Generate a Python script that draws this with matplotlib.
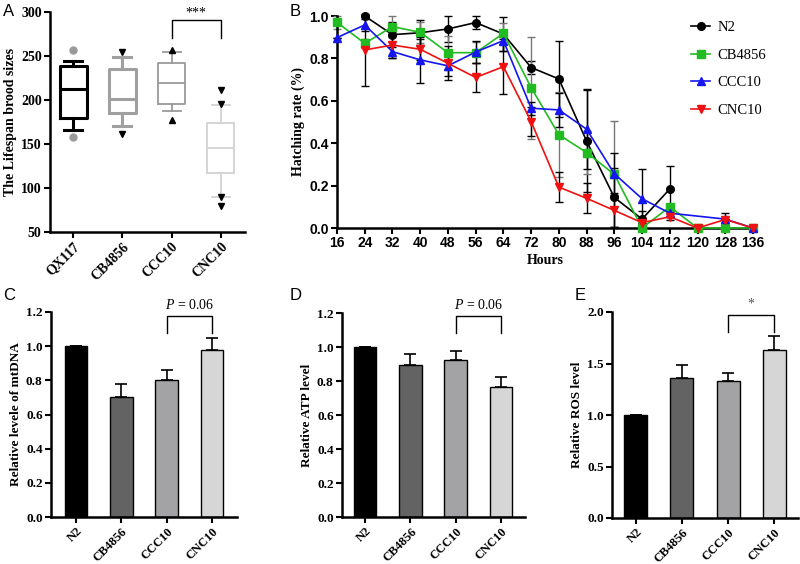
import numpy as np
import matplotlib
matplotlib.use("Agg")
import matplotlib.pyplot as plt

plt.rcParams['font.family'] = ['Liberation Serif', 'DejaVu Serif']
plt.rcParams['mathtext.fontset'] = 'custom'
plt.rcParams['mathtext.it'] = 'Liberation Serif:italic'
plt.rcParams['mathtext.rm'] = 'Liberation Serif'

# Panel A : box plots (nombre de descendants)
souches_a = ['QX117', 'CB4856', 'CCC10', 'CNC10']
a_mediane = [213, 201, 219, 146]
a_q1 = [180, 185, 195, 117]
a_q3 = [239, 235, 242, 174]
a_bas = [166, 171, 187, 90]
a_haut = [244, 249, 254, 194]
a_extremes = [[257, 158], [254, 161], [257, 177], [211, 196, 90, 80]]

# Panel B : taux d'éclosion
heures = [16, 24, 32, 40, 48, 56, 64, 72, 80, 88, 96, 104, 112, 120, 128, 136]
nan = np.nan
eclo_n2 = [nan, 1.0, 0.912, 0.921, 0.939, 0.969, 0.915, 0.757, 0.703, 0.41, 0.144, 0.042, 0.184, nan, nan, nan]
eclo_cb = [0.97, 0.871, 0.95, 0.923, 0.827, 0.827, 0.918, 0.662, 0.44, 0.356, 0.253, 0.0, 0.10, 0.0, 0.0, 0.0]
eclo_ccc = [0.898, 0.958, 0.832, 0.793, 0.765, 0.83, 0.884, 0.565, 0.557, 0.466, 0.256, 0.138, 0.07, nan, 0.042, 0.0]
eclo_cnc = [nan, 0.84, 0.863, 0.843, 0.777, 0.71, 0.761, 0.502, 0.193, 0.14, 0.083, 0.025, 0.053, 0.0, 0.04, 0.0]
err_n2 = [nan, 0.0, 0.06, 0.06, 0.06, 0.03, 0.08, 0.03, 0.18, 0.24, 0.14, 0.04, 0.11, nan, nan, nan]
err_cb = [0.03, 0.02, 0.05, 0.05, 0.08, 0.05, 0.05, 0.24, 0.2, 0.1, 0.25, 0.0, 0.0, 0.0, 0.0, 0.0]
err_ccc = [0.0, 0.03, 0.03, 0.11, 0.05, 0.05, 0.05, 0.03, 0.08, 0.19, 0.1, 0.14, 0.03, nan, 0.0, 0.0]
err_cnc = [nan, 0.17, 0.06, 0.05, 0.08, 0.07, 0.13, 0.07, 0.07, 0.07, 0.08, 0.0, 0.0, 0.0, 0.03, 0.0]

# Panels C, D, E : barres
souches = ['N2', 'CB4856', 'CCC10', 'CNC10']
mtdna = [1.0, 0.70, 0.80, 0.98]
mtdna_err = [0.0, 0.08, 0.06, 0.07]
atp = [1.0, 0.896, 0.922, 0.765]
atp_err = [0.0, 0.06, 0.053, 0.06]
ros = [1.0, 1.356, 1.333, 1.631]
ros_err = [0.0, 0.126, 0.072, 0.133]

couleurs_barres = ['#000000', '#636363', '#a3a3a6', '#d6d6d6']

W, H = 800, 564
fig = plt.figure(figsize=(W / 100, H / 100), dpi=100)


def axes_px(g, h, d, b):
    return fig.add_axes([g / W, 1 - b / H, (d - g) / W, (b - h) / H])


def style_axes(ax, serif=True):
    for s in ['top', 'right']:
        ax.spines[s].set_visible(False)
    for s in ['left', 'bottom']:
        ax.spines[s].set_linewidth(1.8)
    ax.tick_params(direction='out', length=4, width=1.5, pad=2)
    police = 'Liberation Serif' if serif else 'Liberation Sans'
    for lab in ax.get_xticklabels() + ax.get_yticklabels():
        lab.set_fontfamily(police)
        lab.set_fontweight('bold')


# ---------------- A ----------------
ax = axes_px(50, 12, 245, 232)
couleurs_a = ['#000000', '#a0a0a0', '#9a9a9a', '#d2d2d2']
epaisseurs_a = [2.2, 2.2, 1.3, 1.3]
marqueurs_a = [('o', '#999999'), ('v', '#000000'), ('^', '#000000'), ('v', '#000000')]
for i in range(4):
    stats = [dict(med=a_mediane[i], q1=a_q1[i], q3=a_q3[i], whislo=a_bas[i],
                  whishi=a_haut[i], fliers=a_extremes[i])]
    c, lw = couleurs_a[i], epaisseurs_a[i]
    m, mc = marqueurs_a[i]
    ax.bxp(stats, positions=[i + 1], widths=0.55, capwidths=0.37,
           boxprops=dict(color=c, linewidth=lw),
           medianprops=dict(color=c, linewidth=lw),
           whiskerprops=dict(color=c, linewidth=lw),
           capprops=dict(color=c, linewidth=lw),
           flierprops=dict(marker=m, markerfacecolor=mc, markeredgecolor=mc,
                           markersize=5, linestyle='none'))
ax.set_xlim(0.53, 4.49)
ax.set_ylim(50, 300)
ax.set_yticks([50, 100, 150, 200, 250, 300])
ax.set_xticks([1, 2, 3, 4])
ax.set_xticklabels(souches_a, rotation=45, ha='right', rotation_mode='anchor', fontsize=10)
ax.tick_params(axis='y', labelsize=10)
ax.set_ylabel('The Lifespan brood sizes', fontsize=10, fontweight='bold', labelpad=3)
style_axes(ax)
ax.plot([3, 3, 4, 4], [270, 291, 291, 270], color='black', lw=1, clip_on=False)
ax.text(3.5, 291, '***', ha='center', va='bottom', fontsize=10)

# ---------------- B ----------------
ax = axes_px(337, 16, 753, 228)
series = [
    ('N2', eclo_n2, err_n2, 'black', 'o', 'black'),
    ('CB4856', eclo_cb, err_cb, '#22bb22', 's', '#777777'),
    ('CCC10', eclo_ccc, err_ccc, '#1515ee', '^', 'black'),
    ('CNC10', eclo_cnc, err_cnc, '#ee1111', 'v', 'black'),
]
x = np.array(heures)
for nom, y, e, c, m, ce in series:
    y = np.array(y)
    e = np.array(e)
    ok = ~np.isnan(y)
    ax.errorbar(x[ok], y[ok], yerr=e[ok], fmt='none', ecolor=ce, elinewidth=1,
                capsize=3, capthick=1, zorder=2, clip_on=False)
    ax.plot(x[ok], y[ok], color=c, lw=1.2, marker=m, markersize=5.5,
            markerfacecolor=c, markeredgecolor=c, label=nom, zorder=3, clip_on=False)
ax.set_xlim(16, 136)
ax.set_ylim(0, 1.0)
ax.set_xticks(heures)
ax.set_yticks([0, 0.2, 0.4, 0.6, 0.8, 1.0])
ax.set_yticklabels(['0.0', '0.2', '0.4', '0.6', '0.8', '1.0'])
ax.tick_params(labelsize=10)
ax.set_xlabel('Hours', fontsize=10, fontweight='bold', labelpad=3)
ax.set_ylabel('Hatching rate (%)', fontsize=10, fontweight='bold', labelpad=3)
style_axes(ax, serif=False)
ax.legend(loc='upper left', bbox_to_anchor=(678 / W, 1 - 8 / H),
          bbox_transform=fig.transFigure, frameon=False, fontsize=10.5,
          handlelength=1.3, labelspacing=0.98, handletextpad=0.5)

# ---------------- C, D, E ----------------
panneaux = [
    ((51, 312, 237, 517), (0.45, 4.55), mtdna, mtdna_err, 1.2,
     'Relative levele of mtDNA', (1.077, 1.175), r'$P$ = 0.06'),
    ((342, 313, 525, 517), (0.49, 4.53), atp, atp_err, 1.2,
     'Relative ATP level', (1.082, 1.18), r'$P$ = 0.06'),
    ((612, 312, 798, 518), (0.48, 4.52), ros, ros_err, 2.0,
     'Relative ROS level', (1.806, 1.971), '*'),
]
for box, xl, val, err, ymax, lab, (b0, b1), sig in panneaux:
    ax = axes_px(*box)
    pos = np.arange(1, 5)
    ax.bar(pos, val, width=0.5, color=couleurs_barres, edgecolor='black', linewidth=1)
    ax.errorbar(pos, val, yerr=[np.zeros(4), err], fmt='none', ecolor='black',
                elinewidth=1.2, capsize=4.3, capthick=1.2)
    ax.set_xlim(*xl)
    ax.set_ylim(0, ymax)
    if ymax == 2.0:
        ax.set_yticks([0, 0.5, 1.0, 1.5, 2.0])
        ax.set_yticklabels(['0.0', '0.5', '1.0', '1.5', '2.0'])
    else:
        ax.set_yticks([0, 0.2, 0.4, 0.6, 0.8, 1.0, 1.2])
        ax.set_yticklabels(['0.0', '0.2', '0.4', '0.6', '0.8', '1.0', '1.2'])
    ax.set_xticks(pos)
    ax.set_xticklabels(souches, rotation=45, ha='right', rotation_mode='anchor', fontsize=9)
    ax.tick_params(axis='y', labelsize=9.5)
    ax.set_ylabel(lab, fontsize=9.5, fontweight='bold', labelpad=3)
    style_axes(ax)
    ax.plot([3, 3, 4, 4], [b0, b1, b1, b0], color='black', lw=1, clip_on=False)
    if sig == '*':
        ax.text(3.5, b1 + 0.02 * ymax, sig, ha='center', va='bottom', fontsize=10, color='#555555')
    else:
        ax.text(3.5, b1 + 0.02 * ymax, sig, ha='center', va='bottom', fontsize=10)

# Lettres des panneaux
for lettre, (px, py) in zip('ABCDE', [(3, 12), (290, 12), (3, 296), (290, 296), (575, 296)]):
    fig.text(px / W, 1 - py / H, lettre, fontsize=12, fontfamily='Liberation Sans',
             va='center', ha='left')

plt.savefig('out.png', dpi=100)
